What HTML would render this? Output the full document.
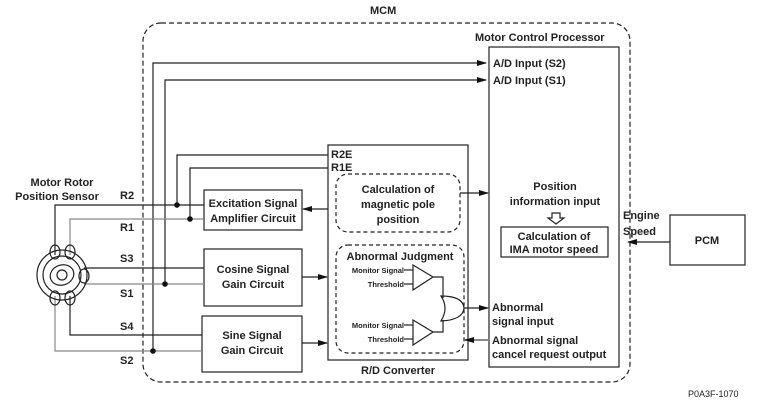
<!DOCTYPE html>
<html><head><style>body{margin:0;background:#fff}svg{display:block}text{font-family:"Liberation Sans",sans-serif;font-weight:bold;fill:#222}</style></head><body>
<svg width="757" height="406" viewBox="0 0 757 406">
<defs><marker id="a" markerWidth="10" markerHeight="8" refX="9" refY="4" orient="auto" markerUnits="userSpaceOnUse"><path d="M0,1 L10,4 L0,7z" fill="#111"/></marker>
<marker id="g" markerWidth="10" markerHeight="8" refX="9" refY="4" orient="auto" markerUnits="userSpaceOnUse"><path d="M0,1 L10,4 L0,7z" fill="#111"/></marker></defs>
<g fill="none" stroke="#222" stroke-width="1.2">
<rect x="143" y="23" width="487" height="359" rx="18" stroke-dasharray="5,3"/>
<rect x="489" y="47" width="130" height="320"/>
<rect x="328" y="145" width="140" height="215"/>
<rect x="204" y="190" width="98" height="40"/>
<rect x="204" y="249" width="98" height="57"/>
<rect x="202" y="316" width="100" height="56"/>
<rect x="501" y="227" width="107" height="30"/>
<rect x="670" y="215" width="75" height="50"/>
<rect x="336" y="174" width="124" height="58" rx="12" stroke-dasharray="4,3"/>
<rect x="336" y="245" width="128" height="108" rx="12" stroke-dasharray="4,3"/>
<!-- A/D lines -->
<polyline points="153,351 153,63 486,63" marker-end="url(#a)"/>
<polyline points="165,284 165,80 486,80" marker-end="url(#a)"/>
<polyline points="177,205 177,155 328,155"/>
<polyline points="190,219 190,168 328,168"/>
<!-- sensor lines -->
<polyline points="55,255 55,205 204,205"/>
<polyline points="70,255 70,219 204,219" stroke="#888"/>
<polyline points="84,268 204,268"/>
<polyline points="84,284 204,284" stroke="#888"/>
<polyline points="70,296 70,335 202,335"/>
<polyline points="55,296 55,351 202,351" stroke="#888"/>
<!-- sensor -->
<circle cx="62" cy="275" r="25"/><circle cx="62" cy="275" r="19"/>
<ellipse cx="62" cy="275" rx="12" ry="10" transform="rotate(-20 62 275)"/><circle cx="62" cy="275" r="5"/>
<ellipse cx="55" cy="252" rx="5" ry="7"/><ellipse cx="70" cy="252" rx="5" ry="7"/><ellipse cx="55" cy="298" rx="5" ry="7"/><ellipse cx="70" cy="298" rx="5" ry="7"/><ellipse cx="84" cy="276" rx="5" ry="7"/>
<!-- arrows -->
<line x1="328" y1="209" x2="303" y2="209" marker-end="url(#a)"/>
<line x1="302" y1="277" x2="327" y2="277" marker-end="url(#a)"/>
<line x1="302" y1="343" x2="327" y2="343" marker-end="url(#a)"/>
<line x1="460" y1="193" x2="488" y2="193" marker-end="url(#a)"/>
<line x1="464" y1="308" x2="488" y2="308" marker-end="url(#a)"/>
<line x1="489" y1="340" x2="465" y2="340" stroke="#888" stroke-width="2" marker-end="url(#g)"/>
<line x1="670" y1="242" x2="628" y2="242" marker-end="url(#a)"/>
<!-- comparators -->
<polygon points="413,265 433,277 413,290"/><polygon points="413,320 433,332 413,345"/>
<line x1="404" y1="270" x2="413" y2="270"/><line x1="404" y1="284" x2="413" y2="284"/>
<line x1="404" y1="325" x2="413" y2="325"/><line x1="404" y1="339" x2="413" y2="339"/>
<polyline points="433,277 443,277 443,298"/><polyline points="433,332 443,332 443,320"/>
<path d="M441,296 Q463,296 464,308 Q463,320 441,321 Q449,308 441,296z"/>
<path d="M552,213 h8 v5 h4 l-8,6 l-8,-6 h4z"/>
</g>
<g fill="#111"><circle cx="153" cy="351" r="2.8"/><circle cx="165" cy="284" r="2.8"/><circle cx="177" cy="205" r="2.8"/><circle cx="190" cy="219" r="2.8"/></g>
<g font-size="11">
<text x="370" y="14">MCM</text>
<text x="475" y="41">Motor Control Processor</text>
<text x="493" y="67">A/D Input (S2)</text><text x="493" y="84">A/D Input (S1)</text>
<text x="331" y="158">R2E</text><text x="331" y="171">R1E</text>
<text x="398" y="193" text-anchor="middle">Calculation of</text><text x="398" y="208" text-anchor="middle">magnetic pole</text><text x="398" y="223" text-anchor="middle">position</text>
<text x="400" y="260" text-anchor="middle">Abnormal Judgment</text>
<text x="555" y="190" text-anchor="middle">Position</text><text x="555" y="205" text-anchor="middle">information input</text>
<text x="554" y="240" text-anchor="middle">Calculation of</text><text x="554" y="253" text-anchor="middle">IMA motor speed</text>
<text x="492" y="311">Abnormal</text><text x="492" y="325">signal input</text>
<text x="492" y="344">Abnormal signal</text><text x="492" y="358">cancel request output</text>
<text x="398" y="374" text-anchor="middle">R/D Converter</text>
<text x="623" y="219">Engine</text><text x="623" y="235">Speed</text>
<text x="707" y="244" text-anchor="middle">PCM</text>
<text x="253" y="207" text-anchor="middle">Excitation Signal</text><text x="253" y="222" text-anchor="middle">Amplifier Circuit</text>
<text x="253" y="273" text-anchor="middle">Cosine Signal</text><text x="253" y="288" text-anchor="middle">Gain Circuit</text>
<text x="252" y="339" text-anchor="middle">Sine Signal</text><text x="252" y="354" text-anchor="middle">Gain Circuit</text>
<text x="62" y="186" text-anchor="middle">Motor Rotor</text><text x="57" y="200" text-anchor="middle">Position Sensor</text>
<text x="120" y="199">R2</text><text x="120" y="231">R1</text><text x="120" y="262">S3</text><text x="120" y="297">S1</text><text x="120" y="330">S4</text><text x="120" y="364">S2</text>
</g>
<g font-size="7.5"><text x="404" y="273" text-anchor="end">Monitor Signal</text><text x="404" y="287" text-anchor="end">Threshold</text>
<text x="404" y="328" text-anchor="end">Monitor Signal</text><text x="404" y="342" text-anchor="end">Threshold</text></g>
<text x="688" y="397" font-size="9" style="font-weight:normal">P0A3F-1070</text>
</svg></body></html>
